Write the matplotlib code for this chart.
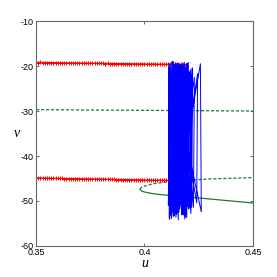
import numpy as np
import matplotlib
matplotlib.use("Agg")
import matplotlib.pyplot as plt

# ---- data ----
red_upper_u = np.arange(0.350, 0.41951, 0.001)
red_upper_v = [-19.20, -19.22, -19.21, -19.24, -19.23, -19.25, -19.26, -19.25, -19.28, -19.27,
               -19.29, -19.30, -19.29, -19.31, -19.32, -19.31, -19.33, -19.34, -19.33, -19.35,
               -19.36, -19.35, -19.37, -19.38, -19.37, -19.39, -19.40, -19.39, -19.41, -19.42,
               -19.41, -19.43, -19.44, -19.43, -19.45, -19.46, -19.45, -19.47, -19.48, -19.47,
               -19.49, -19.50, -19.49, -19.51, -19.52, -19.51, -19.53, -19.54, -19.53, -19.55,
               -19.56, -19.55, -19.57, -19.58, -19.57, -19.59, -19.60, -19.59, -19.61, -19.62,
               -19.61, -19.63, -19.64, -19.63, -19.65, -19.64, -19.66, -19.65, -19.66, -19.67]
red_lower_u = np.arange(0.350, 0.41751, 0.001)
red_lower_v = [-44.90, -44.91, -44.93, -44.92, -44.94, -44.95, -44.94, -44.96, -44.98, -44.97,
               -44.99, -45.00, -44.99, -45.02, -45.03, -45.02, -45.04, -45.06, -45.05, -45.07,
               -45.08, -45.07, -45.10, -45.11, -45.10, -45.12, -45.14, -45.13, -45.15, -45.16,
               -45.15, -45.18, -45.19, -45.18, -45.20, -45.22, -45.21, -45.23, -45.24, -45.23,
               -45.26, -45.27, -45.26, -45.28, -45.30, -45.29, -45.31, -45.32, -45.31, -45.34,
               -45.35, -45.34, -45.36, -45.38, -45.37, -45.39, -45.40, -45.39, -45.42, -45.43,
               -45.42, -45.44, -45.45, -45.44, -45.46, -45.47, -45.46, -45.48]

green_flat_u = [0.35, 0.40, 0.45]
green_flat_v = [-29.7, -29.85, -30.0]
green_dash_u = [0.398, 0.3985, 0.400, 0.4025, 0.405, 0.410, 0.415, 0.420, 0.430, 0.440, 0.450]
green_dash_v = [-47.4, -47.0, -46.7, -46.35, -46.1, -45.8, -45.6, -45.4, -45.1, -44.95, -44.8]
green_solid_u = [0.398, 0.3985, 0.400, 0.4025, 0.405, 0.410, 0.415, 0.420, 0.430, 0.440, 0.450]
green_solid_v = [-47.4, -47.75, -48.0, -48.25, -48.45, -48.7, -48.9, -49.1, -49.55, -50.0, -50.45]

blue_u = [0.4113, 0.4117, 0.4171, 0.4166, 0.4129, 0.4134, 0.4205, 0.4200, 0.4146, 0.4141,
          0.4188, 0.4193, 0.4121, 0.4125, 0.4159, 0.4163, 0.4215, 0.4211, 0.4137, 0.4132,
          0.4178, 0.4182, 0.4115, 0.4110, 0.4197, 0.4192, 0.4152, 0.4156, 0.4124, 0.4128,
          0.4184, 0.4179, 0.4222, 0.4218, 0.4140, 0.4145, 0.4168, 0.4164, 0.4118, 0.4122,
          0.4208, 0.4203, 0.4133, 0.4138, 0.4174, 0.4170, 0.4149, 0.4153, 0.4190, 0.4186,
          0.4126, 0.4131, 0.4162, 0.4158, 0.4212, 0.4216, 0.4143, 0.4147, 0.4181, 0.4176,
          0.4116, 0.4120, 0.4199, 0.4195, 0.4135, 0.4139, 0.4156, 0.4151, 0.4245, 0.4241,
          0.4127, 0.4123, 0.4186, 0.4190, 0.4144, 0.4148, 0.4172, 0.4168, 0.4119, 0.4114,
          0.4202, 0.4207, 0.4160, 0.4155, 0.4131, 0.4136, 0.4193, 0.4189, 0.4150, 0.4146,
          0.4258, 0.4262, 0.4122, 0.4126, 0.4177, 0.4173, 0.4139, 0.4142, 0.4219, 0.4214,
          0.4165, 0.4161, 0.4112, 0.4116, 0.4196, 0.4201, 0.4154, 0.4158, 0.4128, 0.4133,
          0.4183, 0.4187, 0.4147, 0.4143, 0.4230, 0.4226, 0.4169, 0.4173, 0.4120, 0.4124]
blue_top_v = [-19.4, -20.8, -19.1, -21.5, -19.9, -20.2, -22.4, -19.3, -20.6, -19.7,
              -21.1, -23.2, -19.5, -20.0, -21.9, -19.2, -20.4, -19.8, -22.7, -19.6,
              -21.3, -19.0, -20.9, -19.4, -20.3, -22.1, -19.7, -21.0, -19.3, -20.5,
              -23.6, -19.9, -20.7, -19.5, -21.7, -19.1, -20.1, -22.3, -19.6, -20.9,
              -19.2, -21.4, -19.8, -20.4, -24.0, -19.5, -21.2, -19.3, -20.6, -22.0,
              -19.7, -20.3, -19.4, -21.6, -19.0, -20.8, -19.6, -22.5, -19.9, -20.2]
blue_bottom_v = [-52.1, -50.6, -53.4, -51.2, -52.8, -49.9, -53.9, -51.7, -50.3, -52.5,
                 -53.1, -51.0, -52.3, -54.2, -50.8, -52.9, -51.4, -53.6, -50.1, -52.0,
                 -51.8, -53.3, -50.5, -52.6, -54.0, -51.1, -52.4, -50.7, -53.0, -51.5,
                 -52.2, -53.7, -50.9, -51.9, -50.4, -53.2, -52.7, -51.3, -50.2, -53.8,
                 -51.6, -52.1, -50.0, -53.5, -51.0, -52.4, -49.8, -53.1, -51.9, -52.8,
                 -50.6, -54.1, -51.2, -52.5, -53.3, -50.9, -52.0, -51.4, -53.0, -50.5]
blue_v = [v for pair in zip(blue_top_v, blue_bottom_v) for v in pair]

xticks = [0.35, 0.40, 0.45]
xtick_labels = ["0.35", "0.4", "0.45"]
yticks = [-60, -50, -40, -30, -20, -10]
ytick_labels = ["-60", "-50", "-40", "-30", "-20", "-10"]

# ---- plot ----
fig = plt.figure(figsize=(2.77, 2.77), dpi=100)
ax = fig.add_axes([0.130, 0.112, 0.783, 0.812])

ax.plot(green_flat_u, green_flat_v, color="#1e7a32", lw=0.9, ls=(0, (2.5, 1.5)))
ax.plot(green_dash_u, green_dash_v, color="#1e7a32", lw=0.9, ls=(0, (2.5, 1.5)))
ax.plot(green_solid_u, green_solid_v, color="#1e7a32", lw=0.9)

ax.plot(red_upper_u, red_upper_v, color="red", lw=1.0, marker="+", ms=3, mew=0.7)
ax.plot(red_lower_u, red_lower_v, color="red", lw=1.0, marker="+", ms=3, mew=0.7)

ax.plot(blue_u, blue_v, color="blue", lw=0.7)

ax.set_xlim(0.35, 0.45)
ax.set_ylim(-60, -10)
ax.set_xticks(xticks)
ax.set_xticklabels(xtick_labels)
ax.set_yticks(yticks)
ax.set_yticklabels(ytick_labels)

ax.tick_params(direction="in", length=2.5, width=0.6, top=True, right=True,
               labelsize=6.5, pad=1.5, color="#555555")
for lab in ax.get_xticklabels() + ax.get_yticklabels():
    lab.set_fontfamily("Liberation Sans")
for s in ax.spines.values():
    s.set_color("#666666")
    s.set_linewidth(0.8)

ax.set_xlabel("u", fontfamily="Liberation Serif", style="italic", fontsize=10, labelpad=0)
ax.set_ylabel("v", fontfamily="Liberation Serif", style="italic", fontsize=10, labelpad=3,
              rotation=0, va="center")

fig.savefig("out.png", dpi=100)
